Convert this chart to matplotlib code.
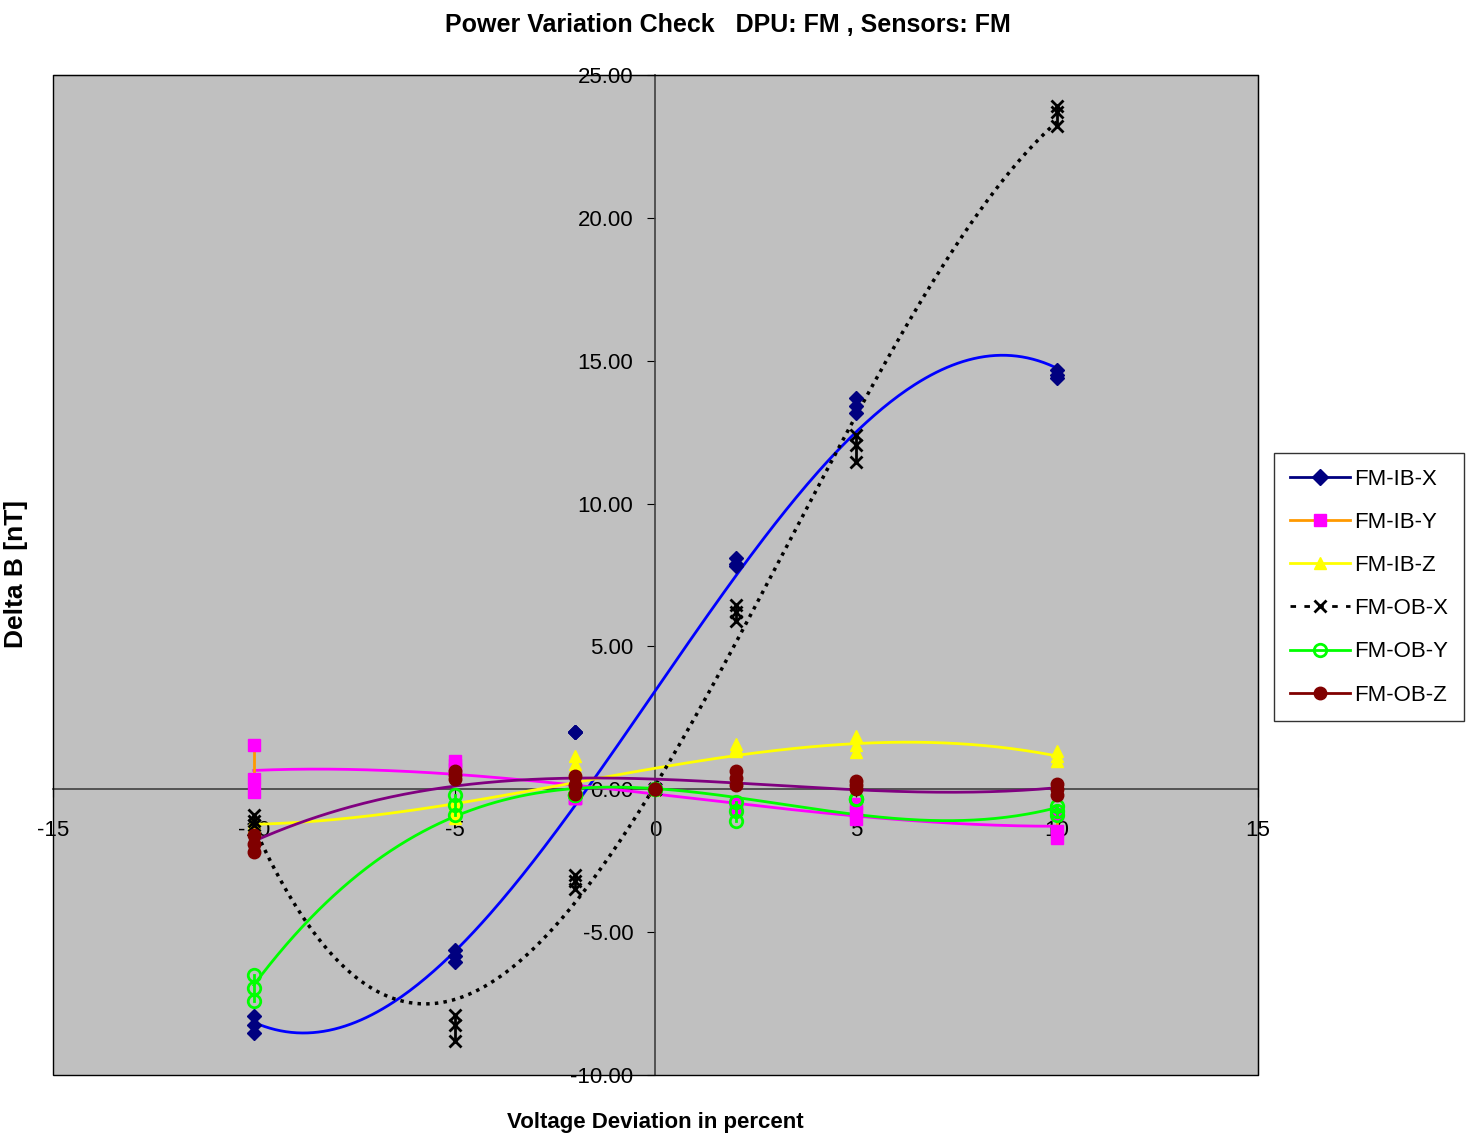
"""Power variation check: Delta B vs voltage deviation, FM DPU / FM sensors."""
import numpy as np
import matplotlib
matplotlib.use("Agg")
import matplotlib.pyplot as plt  # noqa: E402
from matplotlib.lines import Line2D  # noqa: E402
from matplotlib.patches import Rectangle  # noqa: E402

FONT = ["Liberation Sans", "DejaVu Sans"]

VOLT = [-10, -5, -2, 0, 2, 5, 10]  # voltage deviation [%]
# three repeated readings per voltage step [nT]
FM_IB_X = [[-7.95, -8.26, -8.54], [-5.64, -5.85, -6.06], [2.0, 2.0, 2.0], [0, 0, 0],
           [8.08, 7.9, 7.8], [13.7, 13.4, 13.16], [14.67, 14.5, 14.4]]
FM_IB_Y = [[1.55, 0.35, -0.1], [1.0, 0.85, 0.7], [-0.3, -0.3, -0.3], [0, 0, 0],
           [-0.5, -0.6, -0.7], [-0.5, -0.8, -1.05], [-0.85, -1.45, -1.7]]
FM_IB_Z = [[-1.1, -1.2, -1.3], [-0.5, -0.75, -1.0], [1.15, 0.9, 0.75], [0, 0, 0],
           [1.6, 1.45, 1.35], [1.85, 1.55, 1.3], [1.35, 1.15, 1.0]]
FM_OB_X = [[-0.9, -1.1, -1.25], [-7.9, -8.26, -8.8], [-3.0, -3.2, -3.5], [0, 0, 0],
           [6.45, 6.2, 5.9], [12.4, 12.05, 11.45], [23.9, 23.7, 23.2]]
FM_OB_Y = [[-6.5, -6.95, -7.4], [-0.2, -0.55, -0.9], [-0.2, -0.2, -0.2], [0, 0, 0],
           [-0.45, -0.75, -1.1], [-0.35, -0.35, -0.35], [-0.6, -0.75, -0.9]]
FM_OB_Z = [[-1.6, -1.9, -2.2], [0.63, 0.5, 0.35], [0.45, 0.15, -0.15], [0, 0, 0],
           [0.65, 0.4, 0.15], [0.3, 0.15, 0.0], [0.2, 0.0, -0.2]]

LABELS = ["FM-IB-X", "FM-IB-Y", "FM-IB-Z", "FM-OB-X", "FM-OB-Y", "FM-OB-Z"]
SERIES = [FM_IB_X, FM_IB_Y, FM_IB_Z, FM_OB_X, FM_OB_Y, FM_OB_Z]
# (line colour, marker, marker face, marker edge, linestyle, trendline colour)
STYLE = [
    ("#000080", "D", "#000080", "#000080", "-", "#0000FF"),
    ("#FF9900", "s", "#FF00FF", "#FF00FF", "-", "#FF00FF"),
    ("#FFFF00", "^", "#FFFF00", "#FFFF00", "-", "#FFFF00"),
    ("#000000", "x", "none", "#000000", ":", "#000000"),
    ("#00FF00", "o", "none", "#00FF00", "-", "#00FF00"),
    ("#800000", "o", "#800000", "#800000", "-", "#800080"),
]

fig = plt.figure(figsize=(14.67, 11.42), dpi=100)
ax = fig.add_axes([0.0361, 0.0587, 0.8214, 0.8756])
ax.set_facecolor("#C0C0C0")
ax.set_xlim(-15, 15)
ax.set_ylim(-10, 25)

xs = np.linspace(-10, 10, 300)
for data, (lc, mk, mf, me, ls, tc) in zip(SERIES, STYLE):
    # polynomial trendline (order 3) through all readings
    xx = np.repeat(VOLT, [len(g) for g in data])
    yy = np.concatenate(data)
    coef = np.polyfit(xx, yy, 3)
    if ls == ":":
        ax.plot(xs, np.polyval(coef, xs), color=tc, lw=2.5, ls=(0, (1, 1.5)), zorder=3)
    else:
        ax.plot(xs, np.polyval(coef, xs), color=tc, lw=2, zorder=3)
for data, (lc, mk, mf, me, ls, tc) in zip(SERIES, STYLE):
    for v, grp in zip(VOLT, data):
        ax.plot([v] * len(grp), grp, color=lc, ls="-", lw=2, marker=mk,
                mfc=mf, mec=me, ms=7 if mk == "D" else 9,
                mew=2 if mf == "none" else 1, zorder=4)

# axes crossing at zero
for s in ["left", "bottom"]:
    ax.spines[s].set_position(("data", 0))
    ax.spines[s].set_color("#404040")
    ax.spines[s].set_linewidth(1.2)
for s in ["top", "right"]:
    ax.spines[s].set_color("black")
ax.add_patch(Rectangle((0, 0), 1, 1, transform=ax.transAxes, fill=False,
                       ec="black", lw=1, zorder=5, clip_on=False))

ax.set_xticks([-15, -10, -5, 0, 5, 10, 15])
ax.set_xticklabels(["-15", "-10", "-5", "0", "5", "10", "15"], family=FONT, fontsize=16)
ax.set_yticks([-10, -5, 0, 5, 10, 15, 20, 25])
ax.set_yticklabels([f"{v:.2f}" for v in [-10, -5, 0, 5, 10, 15, 20, 25]],
                   family=FONT, fontsize=16)
ax.tick_params(axis="x", direction="out", length=6, pad=16)
ax.tick_params(axis="y", direction="out", length=6, pad=10)

fig.text(0.496, 0.978, "Power Variation Check   DPU: FM , Sensors: FM",
         ha="center", va="center", fontsize=18, fontweight="bold", family=FONT)
fig.text(0.447, 0.017, "Voltage Deviation in percent", ha="center", va="center",
         fontsize=16, fontweight="bold", family=FONT)
fig.text(0.011, 0.497, "Delta B [nT]", ha="center", va="center", rotation=90,
         fontsize=19, fontweight="bold", family=FONT)

handles = []
for lbl, (lc, mk, mf, me, ls, tc) in zip(LABELS, STYLE):
    handles.append(Line2D([], [], color=lc, lw=2, ls=(0, (2, 3)) if ls == ":" else "-",
                          marker=mk, mfc=mf, mec=me, ms=9 if mk != "D" else 8,
                          mew=2 if mf == "none" else 1, label=lbl))
leg = fig.legend(handles=handles, loc="upper left", bbox_to_anchor=(0.8685, 0.6033),
                 prop={"family": FONT, "size": 16}, frameon=True, fancybox=False,
                 edgecolor="black", handlelength=2.7, labelspacing=1.0,
                 borderpad=0.7, handletextpad=0.2, borderaxespad=0)
leg.get_frame().set_linewidth(1)

fig.savefig("out.png", dpi=100, facecolor="white")
